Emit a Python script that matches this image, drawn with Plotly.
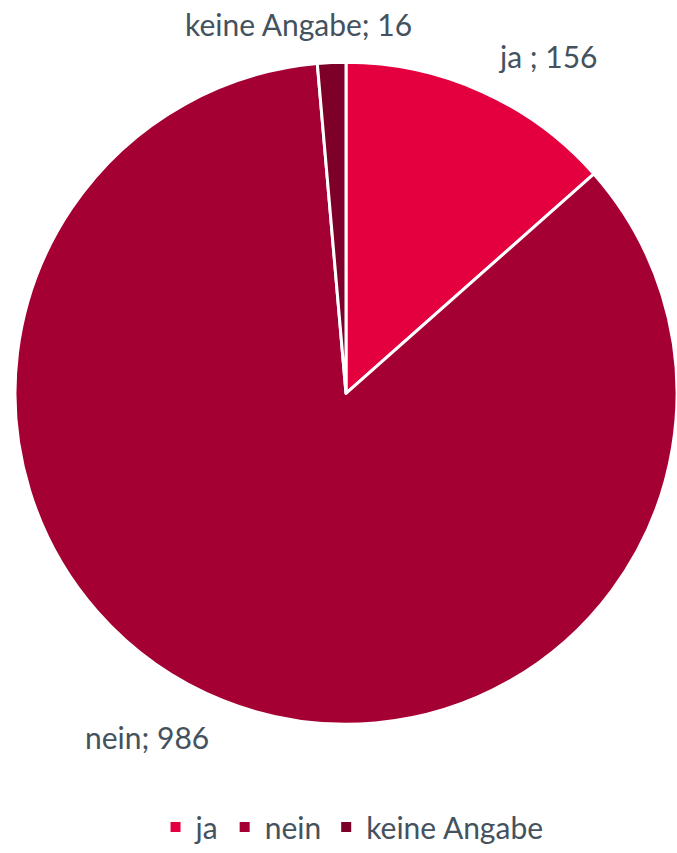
import plotly.graph_objects as go

# Survey answers and counts
labels = ["ja", "nein", "keine Angabe"]
values = [156, 986, 16]
label_texts = ["ja ; 156", "nein; 986", "keine Angabe; 16"]
colors = ["#E4003F", "#A50034", "#7D0029"]

W, H = 677, 853
text_color = "#44525E"
font_family = "Lato, 'Open Sans', sans-serif"

fig = go.Figure(
    go.Pie(
        labels=labels,
        values=values,
        sort=False,
        direction="clockwise",
        rotation=0,
        marker=dict(colors=colors, line=dict(color="white", width=3)),
        textinfo="none",
        hoverinfo="label+value",
        domain=dict(x=[15 / W, 1.0], y=[1 - 733 / H, 1 - 62 / H]),
    )
)

# Outside data labels (pixel centres converted to paper fractions)
label_pos = [(548, 57), (147, 745), (298, 24)]
for txt, (px, py) in zip(label_texts, label_pos):
    fig.add_annotation(
        x=px / W, y=1 - py / H, xref="paper", yref="paper",
        text=txt, showarrow=False, xanchor="center", yanchor="middle",
        font=dict(family=font_family, size=30, color=text_color),
    )

fig.update_layout(
    width=W,
    height=H,
    margin=dict(l=0, r=0, t=0, b=0),
    paper_bgcolor="white",
    plot_bgcolor="white",
    showlegend=True,
    legend=dict(
        orientation="h",
        x=0.52, xanchor="center",
        y=1 - 836 / H, yanchor="middle",
        font=dict(family=font_family, size=30, color=text_color),
        itemsizing="constant",
        traceorder="normal",
    ),
)

fig.write_html("out.html")
